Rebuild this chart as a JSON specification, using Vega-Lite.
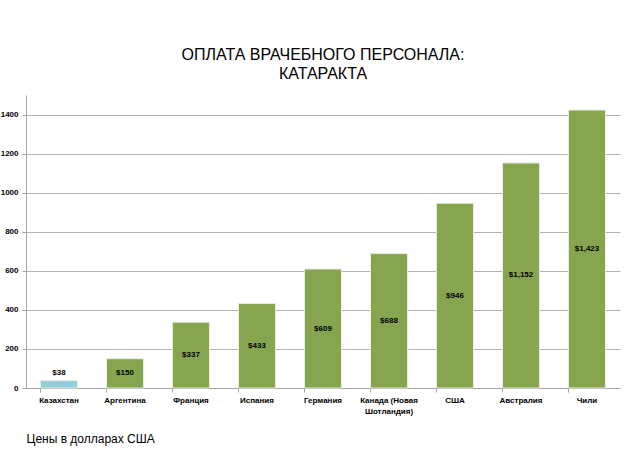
{
  "$schema": "https://vega.github.io/schema/vega-lite/v6.json",
  "width": 594,
  "height": 293,
  "autosize": {"type": "none"},
  "padding": {"left": 26, "top": 95, "right": 13, "bottom": 78},
  "background": "white",
  "title": {
    "text": ["ОПЛАТА ВРАЧЕБНОГО ПЕРСОНАЛА:", "КАТАРАКТА"],
    "anchor": "middle",
    "font": "Liberation Sans",
    "fontSize": 16,
    "fontWeight": "normal",
    "color": "#000000",
    "lineHeight": 19,
    "offset": 13
  },
  "config": {
    "view": {"stroke": null},
    "font": "Liberation Sans"
  },
  "data": {
    "values": [
      {"country": "Казахстан", "value": 38, "group": "kz"},
      {"country": "Аргентина", "value": 150, "group": "other"},
      {"country": "Франция", "value": 337, "group": "other"},
      {"country": "Испания", "value": 433, "group": "other"},
      {"country": "Германия", "value": 609, "group": "other"},
      {"country": "Канада (Новая Шотландия)", "value": 688, "group": "other"},
      {"country": "США", "value": 946, "group": "other"},
      {"country": "Австралия", "value": 1152, "group": "other"},
      {"country": "Чили", "value": 1423, "group": "other"}
    ]
  },
  "encoding": {
    "x": {
      "field": "country",
      "type": "nominal",
      "sort": null,
      "scale": {"paddingInner": 0.44, "paddingOuter": 0.22},
      "axis": {
        "title": "Цены в долларах США",
        "titleFont": "Liberation Sans",
        "titleFontSize": 12,
        "titleFontWeight": "normal",
        "titleColor": "#000000",
        "titleAnchor": "start",
        "titleAlign": "left",
        "titleX": 0,
        "titleY": 45,
        "labelAngle": 0,
        "labelFontSize": 8,
        "labelFontWeight": "bold",
        "labelColor": "#000000",
        "labelPadding": 4,
        "labelExpr": "datum.value == 'Канада (Новая Шотландия)' ? ['Канада (Новая', 'Шотландия)'] : datum.value",
        "labelLineHeight": 11,
        "domainColor": "#a6a6a6",
        "tickColor": "#a6a6a6",
        "tickSize": 4,
        "bandPosition": 0,
        "grid": false
      }
    }
  },
  "layer": [
    {
      "mark": {"type": "bar", "stroke": "#e8ece0", "strokeWidth": 1},
      "encoding": {
        "y": {
          "field": "value",
          "type": "quantitative",
          "scale": {"domain": [0, 1500], "nice": false},
          "axis": {
            "title": null,
            "values": [0, 200, 400, 600, 800, 1000, 1200, 1400],
            "format": "d",
            "labelFontSize": 8,
            "labelFontWeight": "bold",
            "labelColor": "#000000",
            "labelPadding": 4,
            "domainColor": "#a6a6a6",
            "tickColor": "#a6a6a6",
            "tickSize": 4,
            "gridColor": "#b3b3b3",
            "gridWidth": 1
          }
        },
        "color": {
          "field": "group",
          "type": "nominal",
          "scale": {"domain": ["kz", "other"], "range": ["#92CDDC", "#87A44F"]},
          "legend": null
        }
      }
    },
    {
      "transform": [
        {"filter": "datum.group == 'other'"},
        {"calculate": "datum.value / 2", "as": "mid"}
      ],
      "mark": {"type": "text", "fontSize": 8, "fontWeight": "bold", "color": "#000000", "baseline": "middle"},
      "encoding": {
        "y": {"field": "mid", "type": "quantitative"},
        "text": {"field": "value", "type": "quantitative", "format": "$,d"}
      }
    },
    {
      "transform": [{"filter": "datum.group == 'kz'"}],
      "mark": {"type": "text", "fontSize": 8, "fontWeight": "bold", "color": "#000000", "baseline": "bottom", "dy": -4},
      "encoding": {
        "y": {"field": "value", "type": "quantitative"},
        "text": {"field": "value", "type": "quantitative", "format": "$,d"}
      }
    }
  ]
}
